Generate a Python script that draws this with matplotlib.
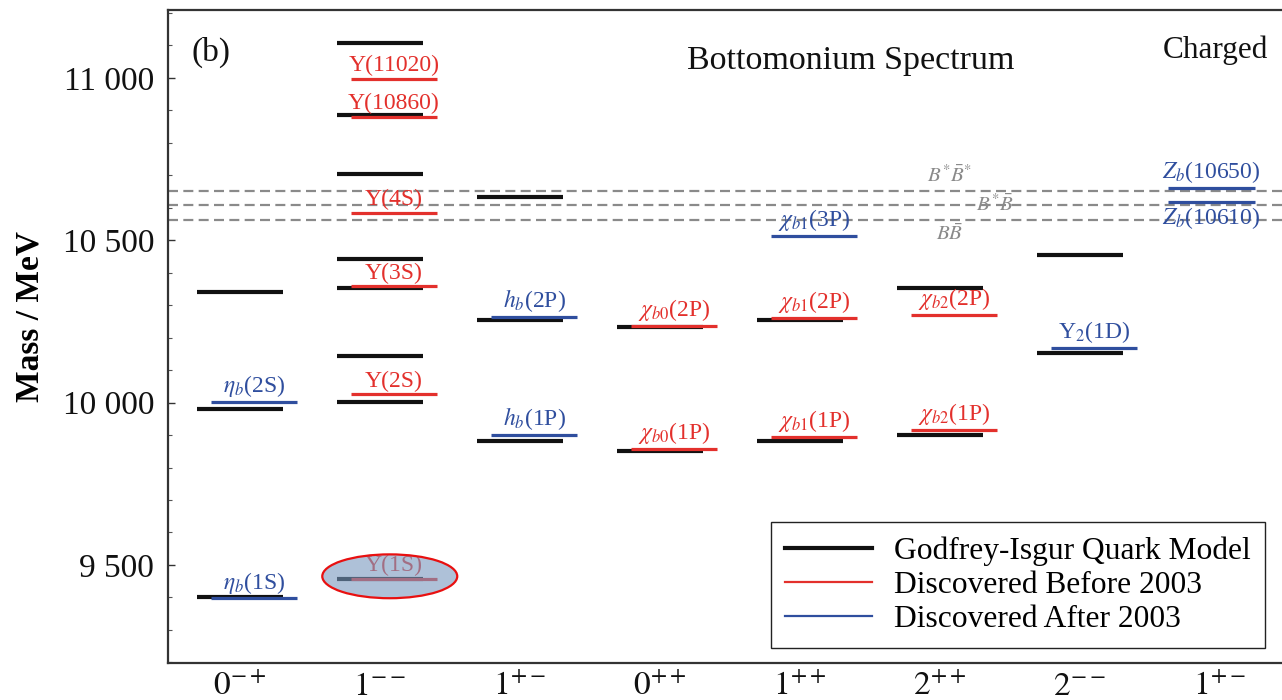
import matplotlib
matplotlib.use("Agg")
import matplotlib.pyplot as plt
from matplotlib.lines import Line2D
from matplotlib.patches import Ellipse
from matplotlib.ticker import MultipleLocator, FixedLocator

plt.rcParams["font.family"] = ["Liberation Serif", "DejaVu Serif"]
plt.rcParams["mathtext.fontset"] = "stix"

# ---- data -----------------------------------------------------------------
jpc_labels = [r"$0^{-+}$", r"$1^{--}$", r"$1^{+-}$", r"$0^{++}$",
              r"$1^{++}$", r"$2^{++}$", r"$2^{--}$", r"$1^{+-}$"]

# Godfrey-Isgur quark model predictions (MeV), with their J^PC column
gi_column = [0, 0, 0,
             1, 1, 1, 1, 1, 1, 1, 1,
             2, 2, 2,
             3, 3,
             4, 4,
             5, 5,
             6, 6]
gi_mass = [9402, 9981, 10342,
           9458, 10001, 10142, 10353, 10442, 10705, 10886, 11108,
           9881, 10253, 10633,
           9852, 10233,
           9881, 10253,
           9899, 10353,
           10153, 10453]

# States discovered before 2003
before_names = ["Υ(1S)", "Υ(2S)", "Υ(3S)", "Υ(4S)", "Υ(10860)", "Υ(11020)",
                r"$\chi_{b0}$(1P)", r"$\chi_{b0}$(2P)",
                r"$\chi_{b1}$(1P)", r"$\chi_{b1}$(2P)",
                r"$\chi_{b2}$(1P)", r"$\chi_{b2}$(2P)"]
before_column = [1, 1, 1, 1, 1, 1, 3, 3, 4, 4, 5, 5]
before_mass = [9458, 10025, 10358, 10585, 10881, 10997,
               9858, 10235, 9894, 10261, 9915, 10271]

# States discovered after 2003
after_names = [r"$\eta_b$(1S)", r"$\eta_b$(2S)", r"$h_b$(1P)", r"$h_b$(2P)",
               r"$\chi_{b1}$(3P)", r"Υ$_2$(1D)", r"$Z_b$(10610)", r"$Z_b$(10650)"]
after_column = [0, 0, 2, 2, 4, 6, 7, 7]
after_mass = [9397, 10001, 9901, 10264, 10514, 10168, 10617, 10660]
after_label_below = [False, False, False, False, False, False, True, False]

# Open-bottom thresholds
threshold_names = [r"$B\bar{B}$", r"$B^{*}\bar{B}$", r"$B^{*}\bar{B}^{*}$"]
threshold_mass = [10563, 10607, 10653]

# ---- styling ----------------------------------------------------------------
BLACK = "#111111"
RED = "#e3302c"
BLUE = "#2f4e9e"
GREY = "#8a8a8a"
HALF = 0.31          # half width of a level bar (in column units)
OBS_SHIFT = 0.10     # observed levels sit slightly right of the model bars
CHARGED_SHIFT = -0.06


def obs_center(col):
    return col + (CHARGED_SHIFT if col == 7 else OBS_SHIFT)


fig = plt.figure(figsize=(12.82, 7.0), dpi=100)
ax = fig.add_axes([168 / 1282, 37 / 700, 1 - 168 / 1282, 653 / 700])
ax.set_xlim(-0.514, 7.443)
ax.set_ylim(9198, 11209)

# thresholds
for m in threshold_mass:
    ax.axhline(m, color=GREY, lw=1.6, ls=(0, (4.5, 2.4)), zorder=1)
thr_pos = [(5.07, -1, "top"), (5.39, 0, "center"), (5.07, 1, "bottom")]
for name, m, (xc, sgn, va) in zip(threshold_names, threshold_mass, thr_pos):
    ax.annotate(name, (xc, m), xytext=(0, 3 * sgn), textcoords="offset points",
                ha="center", va=va, color=GREY, fontsize=15, zorder=2)

# model bars
for col, m in zip(gi_column, gi_mass):
    ax.plot([col - HALF, col + HALF], [m, m], color=BLACK, lw=3.0,
            solid_capstyle="butt", zorder=3)


# observed levels with names
def draw_observed(names, cols, masses, color, below=None):
    for k, (name, col, m) in enumerate(zip(names, cols, masses)):
        xc = obs_center(col)
        ax.plot([xc - HALF, xc + HALF], [m, m], color=color, lw=2.3,
                solid_capstyle="butt", zorder=4)
        under = below[k] if below is not None else False
        ax.annotate(name, (xc, m), xytext=(0, -2 if under else 2),
                    textcoords="offset points", ha="center",
                    va="top" if under else "bottom",
                    color=color, fontsize=17, zorder=5)


draw_observed(before_names, before_column, before_mass, RED)
draw_observed(after_names, after_column, after_mass, BLUE, after_label_below)

# highlight of the ground-state vector level
ax.add_patch(Ellipse((1.07, 9465), width=0.964, height=135,
                     facecolor=(0.47, 0.60, 0.75, 0.6), edgecolor="#e81010",
                     lw=1.6, zorder=6))

# axes decoration
ax.spines["right"].set_visible(False)
for side in ("left", "top", "bottom"):
    ax.spines[side].set_linewidth(1.6)
    ax.spines[side].set_color("#333333")

ax.yaxis.set_major_locator(FixedLocator([9500, 10000, 10500, 11000]))
ax.set_yticklabels(["9 500", "10 000", "10 500", "11 000"])
ax.yaxis.set_minor_locator(MultipleLocator(100))
ax.tick_params(axis="y", which="major", direction="in", length=5, width=1,
               labelsize=24, pad=10, colors="#333333", labelcolor="#111111")
ax.tick_params(axis="y", which="minor", direction="in", length=3, width=0.8,
               colors="#555555")
ax.set_xticks(range(len(jpc_labels)))
ax.set_xticklabels(jpc_labels)
ax.tick_params(axis="x", length=0, labelsize=24, pad=6, labelcolor="#111111")

fig.text(30 / 1282, 1 - 316 / 700, "Mass / MeV", rotation=90, ha="center",
         va="center", fontsize=24, fontweight="bold")

ax.text(0.613, 0.923, "Bottomonium Spectrum", transform=ax.transAxes,
        ha="center", va="center", fontsize=24.5, color="#111111")
ax.text(0.94, 0.938, "Charged", transform=ax.transAxes,
        ha="center", va="center", fontsize=22.5, color="#111111")
ax.text(0.0386, 0.935, "(b)", transform=ax.transAxes,
        ha="center", va="center", fontsize=24, color="#111111")

handles = [Line2D([], [], color=BLACK, lw=3.0),
           Line2D([], [], color=RED, lw=1.6),
           Line2D([], [], color=BLUE, lw=1.6)]
leg = ax.legend(handles,
                ["Godfrey-Isgur Quark Model", "Discovered Before 2003",
                 "Discovered After 2003"],
                loc="lower right", bbox_to_anchor=(1265 / 1282, 52 / 700),
                bbox_transform=fig.transFigure, borderaxespad=0,
                fontsize=22.7, frameon=True, fancybox=False, framealpha=1,
                edgecolor="#222222", handlelength=2.75, handletextpad=0.7,
                labelspacing=0.16, borderpad=0.45)
leg.get_frame().set_linewidth(1.0)
leg.set_zorder(10)

fig.savefig("out.png", dpi=100)
